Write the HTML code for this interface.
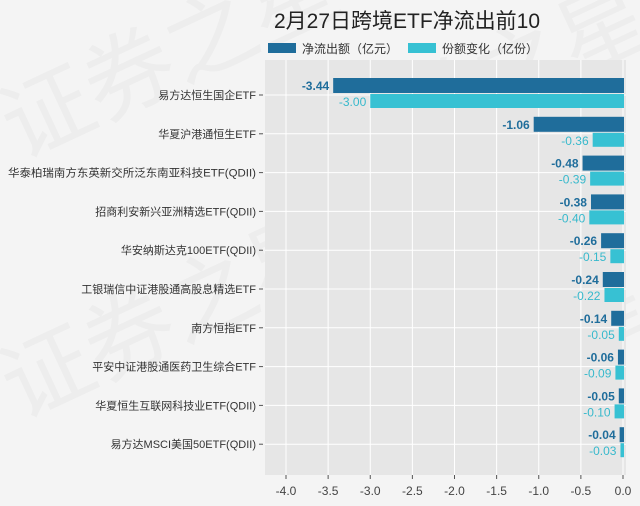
<!DOCTYPE html>
<html><head><meta charset="utf-8"><style>
body{margin:0;background:#f4f4f4;}
svg{display:block;font-family:"Liberation Sans","Noto Sans CJK SC",sans-serif;}
</style></head><body>
<svg id="c" width="640" height="506" xmlns="http://www.w3.org/2000/svg">
<rect width="640" height="506" fill="#f4f4f4"/>
<g fill="#e4e4e4" font-size="90" opacity="0.45">
<text x="20" y="160" transform="rotate(-25 20 160)">证券之星</text>
<text x="330" y="190" transform="rotate(-25 330 190)">证券之星</text>
<text x="20" y="420" transform="rotate(-25 20 420)">证券之星</text>
<text x="330" y="470" transform="rotate(-25 330 470)">证券之星</text>
</g>
<text x="407" y="28" font-size="21" text-anchor="middle" fill="#222">2月27日跨境ETF净流出前10</text>
<g>
<rect x="268" y="43" width="28" height="10" fill="#1f6d9b"/>
<text x="302" y="53" font-size="12" fill="#333">净流出额（亿元）</text>
<rect x="408" y="43" width="28" height="10" fill="#37c1d3"/>
<text x="442" y="53" font-size="12" fill="#333">份额变化（亿份）</text>
</g>
<rect x="265" y="60" width="361" height="415" fill="#e6e6e6"/>
<g id="grid"></g><g id="bars"></g><g id="axes"></g>
</svg>
<script>
const categories=["易方达恒生国企ETF","华夏沪港通恒生ETF","华泰柏瑞南方东英新交所泛东南亚科技ETF(QDII)","招商利安新兴亚洲精选ETF(QDII)","华安纳斯达克100ETF(QDII)","工银瑞信中证港股通高股息精选ETF","南方恒指ETF","平安中证港股通医药卫生综合ETF","华夏恒生互联网科技业ETF(QDII)","易方达MSCI美国50ETF(QDII)"];
const netOutflow=[-3.44,-1.06,-0.48,-0.38,-0.26,-0.24,-0.14,-0.06,-0.05,-0.04];
const shareChange=[-3.00,-0.36,-0.39,-0.40,-0.15,-0.22,-0.05,-0.09,-0.10,-0.03];
const xTicks=[-4.0,-3.5,-3.0,-2.5,-2.0,-1.5,-1.0,-0.5,0.0];
const NS="http://www.w3.org/2000/svg";
const x=v=>623+v*84.25;
const y=i=>95+i*38.8;
function mk(t,a,p){const e=document.createElementNS(NS,t);for(const k in a)e.setAttribute(k,a[k]);p.appendChild(e);return e;}
const grid=document.getElementById('grid'),bars=document.getElementById('bars'),axes=document.getElementById('axes');
xTicks.forEach(v=>{
 const l=mk('line',{x1:x(v),x2:x(v),y1:60,y2:475,stroke:'#fff','stroke-width':1},grid);
 
 
 const tk=mk('line',{x1:x(v),x2:x(v),y1:475,y2:479,stroke:'#555'},axes);
 
 
 const t=mk('text',{x:x(v),y:495,'font-size':12,'text-anchor':'middle',fill:'#444'},axes);
 t.textContent=v.toFixed(1);
 
 
});
categories.forEach((c,i)=>{
 const yc=y(i);
 const gl=mk('line',{x1:265,x2:626,y1:yc,y2:yc,stroke:'#fff'},grid);
 
 
 const tk=mk('line',{x1:259,x2:263,y1:yc,y2:yc,stroke:'#555'},axes);
 
 
 const t=mk('text',{x:256,y:yc+4,'font-size':11,'text-anchor':'end',fill:'#333'},axes);
 t.textContent=c;
 if(c.length>20){t.setAttribute('textLength',248);t.setAttribute('lengthAdjust','spacingAndGlyphs');}
 
 
 const a=netOutflow[i],b=shareChange[i];
 const r1=mk('rect',{x:x(a),y:yc-17,width:x(0)-x(a)+1,height:15,fill:'#1f6d9b'},bars);
 
 
 const t1=mk('text',{x:x(a)-4,y:yc-5,'font-size':12,'font-weight':'bold','text-anchor':'end',fill:'#1f6d9b'},bars);
 t1.textContent=a.toFixed(2);
 
 
 const r2=mk('rect',{x:x(b),y:yc-1,width:x(0)-x(b)+1,height:14,fill:'#37c1d3'},bars);
 
 
 const t2=mk('text',{x:x(b)-4,y:yc+11,'font-size':12,'text-anchor':'end',fill:'#37b9cc'},bars);
 t2.textContent=b.toFixed(2);
 
 
});
</script>
</body></html>
